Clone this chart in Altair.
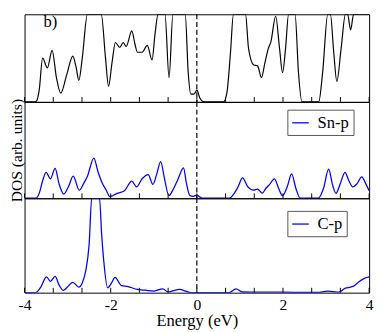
import altair as alt
import pandas as pd

# ---- data (energy in eV, DOS in arbitrary units) ----
TOP_E = [-4.0, -3.78, -3.72, -3.66, -3.58, -3.47, -3.36, -3.26, -3.16, -3.02, -2.88, -2.80, -2.74,
         -2.66, -2.54, -2.40, -2.22, -2.12, -2.05, -1.97, -1.89, -1.79, -1.71, -1.64, -1.51, -1.44,
         -1.38, -1.27, -1.15, -1.04, -0.97, -0.90, -0.82, -0.74, -0.645, -0.555, -0.42, -0.27, -0.20,
         -0.14, -0.07, 0.0, 0.07, 0.12, 0.2, 0.62, 0.70, 0.78, 0.85, 1.0, 1.13, 1.20, 1.32, 1.41, 1.50,
         1.58, 1.66, 1.72, 1.83, 1.92, 1.99, 2.06, 2.13, 2.20, 2.28, 2.36, 2.44, 2.83, 2.92, 3.04,
         3.07, 3.10, 3.18, 3.25, 3.35, 3.45, 3.48, 3.50, 3.57, 3.64, 3.75, 3.9, 4.0]
TOP_V = [0, 0, 1, 12, 45, 35, 53, 25, 9, 28, 47, 35, 22,
         45, 97, 150, 97, 45, 16, 40, 61, 56, 61, 57, 73, 60,
         51, 51, 58, 43, 70, 97, 130, 97, 25, 97, 140, 97, 30,
         8, 8, 12, 4, 1, 0, 0, 10, 50, 97, 140, 97, 55, 38, 37, 25,
         40, 55, 62, 88, 55, 30, 55, 97, 130, 97, 30, 0, 0, 30, 97,
         110, 97, 50, 21, 55, 97, 105, 97, 74, 97, 140, 140, 140]

SNP_E = [-4.0, -3.74, -3.66, -3.58, -3.5, -3.4, -3.29, -3.2, -3.09, -2.98, -2.87, -2.73, -2.63,
         -2.54, -2.39, -2.3, -2.2, -2.1, -2.02, -1.85, -1.68, -1.51, -1.4, -1.27, -1.13, -1.02,
         -0.93, -0.84, -0.75, -0.65, -0.55, -0.44, -0.31, -0.24, -0.16, -0.08, 0.0, 0.08, 0.16,
         0.76, 0.85, 0.96, 1.06, 1.18, 1.32, 1.41, 1.52, 1.6, 1.69, 1.8, 1.9, 1.99, 2.1, 2.2, 2.3,
         2.4, 2.82, 2.94, 3.06, 3.15, 3.23, 3.33, 3.44, 3.53, 3.62, 3.72, 3.83, 3.92, 4.0]
SNP_V = [0, 0, 5, 18, 26.7, 20, 30.7, 15, 4.3, 12, 22.7, 8.3, 15,
         22.7, 41.3, 28, 16, 8, 1.7, 5, 7.7, 17.7, 11.7, 20, 24.3, 14.3,
         25, 37.7, 20, 2.7, 9, 19.3, 31.3, 15, 2.7, 2, 3.3, 1, 0,
         0, 4, 12, 21, 12, 8.3, 9.3, 5.3, 10, 14.3, 20, 10, 2.7, 12, 25, 10,
         0, 0, 10, 30, 14, 5, 15, 26.7, 18, 11.7, 15, 22, 15, 7.7]

CP_E = [-4.0, -3.74, -3.62, -3.49, -3.4, -3.29, -3.2, -3.1, -2.98, -2.88, -2.74, -2.66, -2.58,
        -2.5, -2.44, -2.35, -2.26, -2.21, -2.16, -2.07, -1.98, -1.9, -1.75, -1.6, -1.38, -1.2,
        -1.0, -0.79, -0.67, -0.55, -0.4, -0.25, -0.14, 0.75, 0.91, 1.06, 1.5, 2.0, 2.5, 2.85,
        3.04, 3.3, 3.45, 3.57, 3.65, 3.75, 3.9, 4.0]
CP_V = [0, 0, 6, 16.3, 11.7, 16.7, 8, 2.3, 7, 10.7, 5.7, 10, 22.3,
        50, 97, 150, 97, 60, 32, 5, 10, 15.7, 7.3, 6.3, 3.3, 2.5,
        1.7, 4, 0.7, 2, 3.3, 1.5, 0, 0, 4, 0.7, 0.5, 0.5, 0.3, 0.3,
        1.7, 0.5, 4.7, 5.7, 7, 10.7, 15, 16.3]

TICKS = [-4, -10 / 3, -8 / 3, -2, -4 / 3, -2 / 3, 0, 2 / 3, 4 / 3, 2, 8 / 3, 10 / 3, 4]
LABELS = [-4, -2, 0, 2, 4]
PANEL_LABEL = "b)"
PANEL_LABEL_E = [-3.4]
PANEL_LABEL_V = [82]

FONT = "Liberation Serif"
W = 354
H_TOP, H_MID, H_BOT = 90, 99, 97
BLUE = "#0000ff"

xscale = alt.Scale(domain=[-4, 4], nice=False, zero=False)
top_df = pd.DataFrame({"e": TOP_E, "v": TOP_V})
snp_df = pd.DataFrame({"e": SNP_E, "v": SNP_V, "s": "Sn-p"})
cp_df = pd.DataFrame({"e": CP_E, "v": CP_V, "s": "C-p"})
tick_df = pd.DataFrame({"t": TICKS})
zero_df = pd.DataFrame({"e": [0.0]})
lab_df = pd.DataFrame({"e": PANEL_LABEL_E, "v": PANEL_LABEL_V, "t": [PANEL_LABEL]})

x_axis_bottom = alt.Axis(title="Energy (eV)", values=LABELS, labelExpr="'' + round(datum.value)",
                         ticks=False, domain=False, grid=False, labelFlush=False,
                         labelFont=FONT, labelFontSize=16, labelColor="black", labelPadding=4,
                         titleFont=FONT, titleFontSize=17, titleFontWeight="normal",
                         titleColor="black", titlePadding=1, minExtent=0)


def decorations(h, xaxis):
    ticks = alt.Chart(tick_df).mark_rule(color="black", strokeWidth=1).encode(
        x=alt.X("t:Q", scale=xscale, axis=xaxis, title="Energy (eV)"),
        y=alt.value(h), y2=alt.value(h - 5))
    zero = alt.Chart(zero_df).mark_rule(color="black", strokeWidth=1.2, strokeDash=[5, 3]).encode(
        x=alt.X("e:Q", scale=xscale, axis=xaxis, title="Energy (eV)"))
    return ticks, zero


def yscale(h):
    return alt.Scale(domain=[0, h], nice=False, zero=True, clamp=True)


def legend(x, y):
    return alt.Legend(title=None, orient="none", legendX=x, legendY=y,
                      symbolType="stroke", symbolSize=289, symbolStrokeWidth=1.3,
                      labelFont=FONT, labelFontSize=17, labelColor="black",
                      labelOffset=8, padding=4, strokeColor="#555555",
                      fillColor="white")


# top panel (total DOS)
t_ticks, t_zero = decorations(H_TOP, None)
top_line = alt.Chart(top_df).mark_line(color="black", strokeWidth=1.2, interpolate="monotone",
                                       clip=True).encode(
    x=alt.X("e:Q", scale=xscale, axis=None),
    y=alt.Y("v:Q", scale=yscale(H_TOP), axis=None))
top_text = alt.Chart(lab_df).mark_text(font=FONT, fontSize=17, color="black").encode(
    x=alt.X("e:Q", scale=xscale, axis=None),
    y=alt.Y("v:Q", scale=yscale(H_TOP), axis=None),
    text="t:N")
top = alt.layer(t_zero, top_line, t_ticks, top_text).properties(width=W, height=H_TOP)

# middle panel (Sn-p)
m_ticks, m_zero = decorations(H_MID, None)
mid_line = alt.Chart(snp_df).mark_line(strokeWidth=1.3, interpolate="monotone", clip=True).encode(
    x=alt.X("e:Q", scale=xscale, axis=None),
    y=alt.Y("v:Q", scale=yscale(H_MID),
            axis=alt.Axis(title="DOS (arb. units)", labels=False, ticks=False, domain=False,
                          grid=False, titleFont=FONT, titleFontSize=16, titleColor="black",
                          titleFontWeight="normal", titlePadding=0, minExtent=0)),
    color=alt.Color("s:N", scale=alt.Scale(domain=["Sn-p"], range=[BLUE]),
                    legend=legend(270, 8)))
mid = alt.layer(m_zero, mid_line, m_ticks).properties(width=W, height=H_MID)

# bottom panel (C-p)
b_ticks, b_zero = decorations(H_BOT, x_axis_bottom)
bot_line = alt.Chart(cp_df).mark_line(strokeWidth=1.3, interpolate="monotone", clip=True).encode(
    x=alt.X("e:Q", scale=xscale, axis=x_axis_bottom),
    y=alt.Y("v:Q", scale=yscale(H_BOT), axis=None),
    color=alt.Color("s:N", scale=alt.Scale(domain=["C-p"], range=[BLUE]),
                    legend=legend(270, 13)))
bot = alt.layer(b_zero, bot_line, b_ticks).properties(width=W, height=H_BOT)

chart = alt.vconcat(top, mid, bot, spacing=0, bounds="flush").resolve_scale(
    color="independent").resolve_legend(color="independent").properties(
    padding={"left": 0, "top": 0, "right": 0, "bottom": 0}
).configure_view(stroke="black", strokeWidth=1).configure_axis(grid=False)

chart.save("out.html", embed_options={"renderer": "svg", "actions": False})
